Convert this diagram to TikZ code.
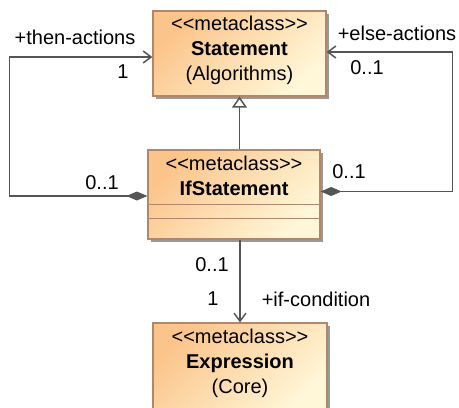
\documentclass[tikz,border=0pt]{standalone}
\usepackage{fontspec}
\setmainfont{Liberation Sans}
\usetikzlibrary{arrows.meta,shadows,calc}
\definecolor{boxL}{HTML}{FBC48A}
\definecolor{boxR}{HTML}{FFF7D8}
\definecolor{boxBorder}{HTML}{B0876A}
\definecolor{lineGray}{HTML}{555555}
\tikzset{
  metabox/.style={draw=boxBorder, line width=0.6pt, top color=boxL, bottom color=boxR, shading angle=45,
    drop shadow={shadow xshift=1.5pt, shadow yshift=-1.5pt, fill=black!40, opacity=1}, inner sep=0pt},
  boxtext/.style={align=center, inner sep=0pt, font=\fontsize{10pt}{12.5pt}\selectfont},
  role/.style={inner sep=0pt, font=\fontsize{10pt}{11pt}\selectfont},
  assoc/.style={draw=lineGray, line width=0.75pt, -{Straight Barb[length=4pt,width=6pt]}},
  owned/.style={assoc, {Diamond[length=10.5pt,width=4.5pt]}-{Straight Barb[length=4pt,width=6pt]}},
  gen/.style={draw=lineGray, line width=0.75pt, -{Triangle[open,length=5.5pt,width=7.5pt,fill=white]}}
}
\begin{document}
\begin{tikzpicture}[x=0.5pt, y=-0.5pt]
\useasboundingbox (0,0) rectangle (459,407);
% classes
\node[metabox, minimum width=86.5pt, minimum height=42.5pt] (stm) at (239.5,53.5) {};
\node[boxtext] (stmtxt) at (239.5,50.5) {{<}{<}metaclass{>}{>}\\\textbf{Statement}\\(Algorithms)};
\node[metabox, minimum width=86pt, minimum height=44.5pt] (ifs) at (234,194.5) {};
\node[boxtext] (ifstxt) at (234,176) {{<}{<}metaclass{>}{>}\\\textbf{IfStatement}};
\draw[boxBorder, line width=0.6pt] ($(ifs.north west)+(0,55)$) -- ($(ifs.north east)+(0,55)$);
\draw[boxBorder, line width=0.6pt] ($(ifs.north west)+(0,69)$) -- ($(ifs.north east)+(0,69)$);
\node[metabox, minimum width=87pt, minimum height=45pt] (exp) at (240,368) {};
\node[boxtext] (exptxt) at (240,363) {{<}{<}metaclass{>}{>}\\\textbf{Expression}\\(Core)};
% associations
\draw[owned] ($(ifs.west)+(0,1.5)$) -- ++(-138,0) |- ($(stm.west)+(0,3.5)$);
\draw[owned] ($(ifs.east)+(0,-3)$) -- ++(132,0) |- ($(stm.east)+(0,-1.5)$);
\draw[gen] (ifs.north -| stm.south) -- (stm.south);
\draw[assoc] (ifs.south -| exp.north) -- (exp.north);
% role names and multiplicities
\node[role] (thenl) at (75,37) {+then-actions};
\node[role] (then1) at (123,72) {1};
\node[role] (thenm) at (102,183) {0..1};
\node[role] (elsel) at (397,33) {+else-actions};
\node[role] (else1) at (367,68) {0..1};
\node[role] (elsem) at (349,172) {0..1};
\node[role] (condm) at (212,265) {0..1};
\node[role] (cond1) at (213,299) {1};
\node[role] (condl) at (316,299) {+if-condition};
\end{tikzpicture}
\end{document}
